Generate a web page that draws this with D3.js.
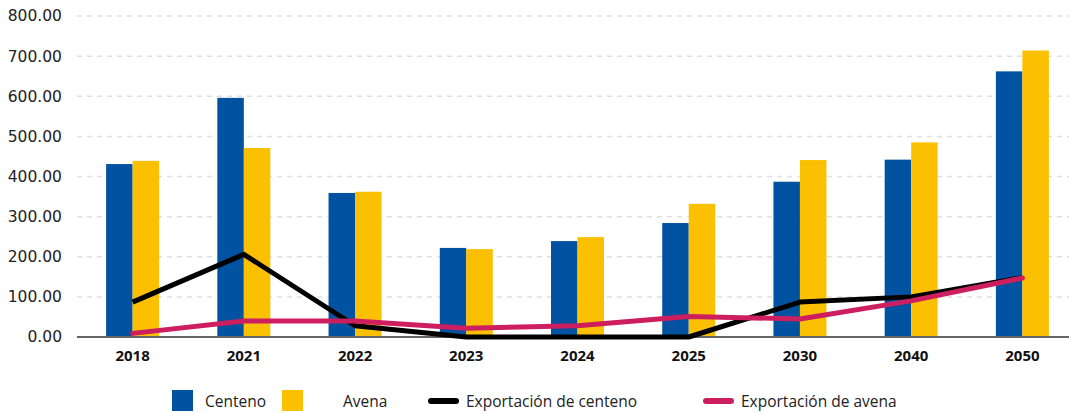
<!DOCTYPE html>
<html>
<head>
<meta charset="utf-8">
<script src="https://cdn.jsdelivr.net/npm/d3@7"></script>
<style>
  body { margin: 0; background: #fff; }
  #figure { width: 1069px; height: 413px; }
</style>
</head>
<body>
<div id="figure"></div>
<script>
const years = ["2018", "2021", "2022", "2023", "2024", "2025", "2030", "2040", "2050"];
const centeno = [431, 596, 359, 222, 239, 284, 387, 442, 662];
const avena = [439, 471, 362, 219, 249, 332, 441, 485, 714];
const expCenteno = [87, 206, 28, 0, 0, 0, 87, 100, 148];
const expAvena = [9, 40, 40, 22, 28, 51, 45, 90, 147];
const yTicks = [0, 100, 200, 300, 400, 500, 600, 700, 800];

const colors = { centeno: "#0152A0", avena: "#FCC002", expC: "#000000", expA: "#CD1F5F" };

document.addEventListener("DOMContentLoaded", () => {
  const W = 1069, H = 413;
  const margin = { top: 16, left: 77, right: -9, bottom: 76 };
  const width = W - margin.left - margin.right,
        height = H - margin.top - margin.bottom;

  const svg = d3.select("#figure").append("svg")
    .attr("width", W).attr("height", H);
  const g = svg.append("g")
    .attr("transform", "translate(" + margin.left + "," + margin.top + ")");

  const x = d3.scaleBand().domain(years).range([0, width]).paddingInner(0).paddingOuter(0);
  const y = d3.scaleLinear().domain([0, 800]).range([height, 0]);
  const barW = 26.5;

  // grid
  g.append("g").selectAll("line").data(yTicks.filter(d => d > 0)).join("line")
    .attr("x1", 0).attr("x2", W - margin.left)
    .attr("y1", d => y(d)).attr("y2", d => y(d))
    .attr("stroke", "#e0e0e0").attr("stroke-width", 1.5)
    .attr("stroke-dasharray", "5,5");

  // y axis labels
  const yAxis = g.append("g")
    .call(d3.axisLeft(y).tickValues(yTicks).tickSize(0).tickPadding(15).tickFormat(d3.format(".2f")));
  yAxis.select(".domain").remove();
  yAxis.selectAll("text").attr("font-family", "'DejaVu Sans', sans-serif")
    .attr("font-size", 15.5).attr("fill", "#222");

  // bars
  g.append("g").selectAll("rect").data(centeno).join("rect")
    .attr("x", (d, i) => x(years[i]) + x.bandwidth() / 2 - barW)
    .attr("width", barW)
    .attr("y", d => y(d)).attr("height", d => height - y(d))
    .attr("fill", colors.centeno);
  g.append("g").selectAll("rect").data(avena).join("rect")
    .attr("x", (d, i) => x(years[i]) + x.bandwidth() / 2)
    .attr("width", barW)
    .attr("y", d => y(d)).attr("height", d => height - y(d))
    .attr("fill", colors.avena);

  // x axis
  const xAxis = g.append("g")
    .attr("transform", "translate(0," + height + ")")
    .call(d3.axisBottom(x).tickSize(0).tickPadding(13));
  xAxis.select(".domain").remove();
  xAxis.selectAll("text").attr("font-family", "'Noto Sans', sans-serif")
    .attr("font-size", 15).attr("font-weight", "bold").attr("fill", "#111");
  g.append("line")
    .attr("x1", 0).attr("x2", W - margin.left)
    .attr("y1", height).attr("y2", height)
    .attr("stroke", "#666").attr("stroke-width", 2);

  // lines
  const line = d3.line()
    .x((d, i) => x(years[i]) + x.bandwidth() / 2)
    .y(d => y(d));
  g.append("path").datum(expCenteno)
    .attr("d", line).attr("fill", "none")
    .attr("stroke", colors.expC).attr("stroke-width", 5).attr("stroke-linejoin", "round");
  g.append("path").datum(expAvena)
    .attr("d", line).attr("fill", "none")
    .attr("stroke", colors.expA).attr("stroke-width", 5).attr("stroke-linejoin", "round")
    .attr("stroke-linecap", "round");

  // legend
  const legend = svg.append("g").attr("font-family", "'Open Sans', sans-serif").attr("font-size", 15.5).attr("fill", "#222");
  const items = [
    { label: "Centeno", color: colors.centeno, type: "rect", x: 172, tx: 205 },
    { label: "Avena", color: colors.avena, type: "rect", x: 282, tx: 343 },
    { label: "Exportación de centeno", color: colors.expC, type: "line", x: 428, tx: 466 },
    { label: "Exportación de avena", color: colors.expA, type: "line", x: 703, tx: 741 }
  ];
  items.forEach(it => {
    if (it.type === "rect") {
      legend.append("rect").attr("x", it.x).attr("y", 390).attr("width", 21).attr("height", 21).attr("fill", it.color);
    } else {
      legend.append("line").attr("x1", it.x + 3).attr("x2", it.x + 28).attr("y1", 401).attr("y2", 401)
        .attr("stroke", it.color).attr("stroke-width", 6).attr("stroke-linecap", "round");
    }
    legend.append("text").attr("x", it.tx).attr("y", 407).text(it.label);
  });
});
</script>
</body>
</html>
